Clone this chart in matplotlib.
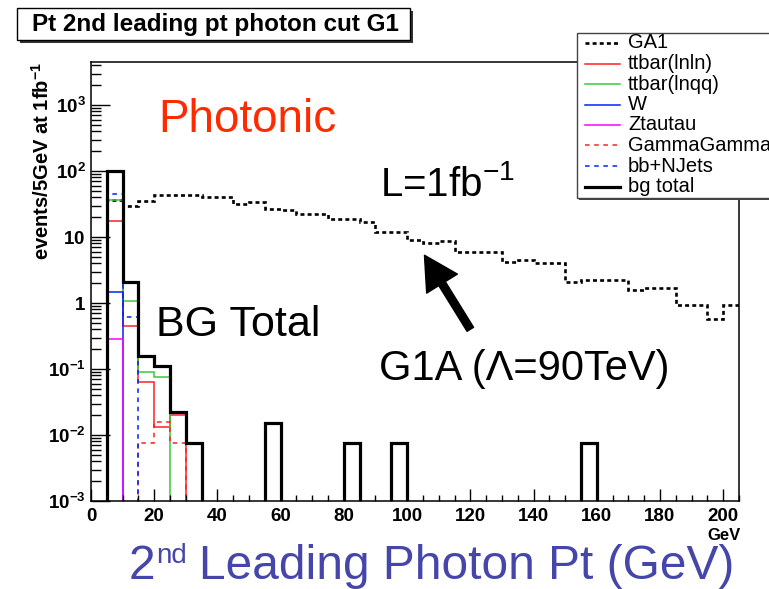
import numpy as np
import matplotlib
matplotlib.use("Agg")
import matplotlib.pyplot as plt
from matplotlib.patches import Rectangle
from matplotlib.lines import Line2D
from matplotlib.ticker import FixedLocator, FixedFormatter, MultipleLocator

plt.rcParams["font.family"] = "Liberation Sans"
plt.rcParams["mathtext.fontset"] = "custom"
plt.rcParams["mathtext.rm"] = "Liberation Sans"
plt.rcParams["mathtext.it"] = "Liberation Sans:italic"
plt.rcParams["mathtext.bf"] = "Liberation Sans:bold"

# 5 GeV bins from 0 to 205 GeV
edges = np.arange(0, 206, 5)
nbins = len(edges) - 1

# signal: GA1 (events / 5 GeV at 1 fb^-1)
ga1 = [0, 36, 29.5, 35, 43, 43, 44, 41, 41, 32,
       34, 27, 26, 22, 22, 18.5, 18.5, 17, 12, 12,
       9, 8, 8.7, 6, 6, 6, 4.2, 4.5, 4.1, 4.1,
       2.1, 2.2, 2.2, 2.2, 1.6, 1.7, 1.7, 0.94, 0.94, 0.58,
       0.92]

# backgrounds, first bins only (rest are empty)
ttbar_lnln = [0, 17.5, 0.45, 0.064, 0.0134, 0.02]
ttbar_lnqq = [0, 37, 1.08, 0.091, 0.076]
w_bg = [0, 1.48]
ztautau = [0, 0.285]
gammagamma = [0, 0, 0, 0.0076, 0.0158, 0.0076]
bb_njets = [0, 45, 0.61]

bg_total = [0, 100, 2.1, 0.16, 0.11, 0.022, 0.0076, 0, 0, 0,
            0, 0.0152, 0, 0, 0, 0, 0.0076, 0, 0, 0.0076,
            0, 0, 0, 0, 0, 0, 0, 0, 0, 0,
            0, 0.0076, 0, 0, 0, 0, 0, 0, 0, 0,
            0]

ymin, ymax = 1e-3, 4.5e3


def full(vals):
    v = np.zeros(nbins)
    v[:len(vals)] = vals
    # empty bins sit on the bottom of the log axis
    return np.where(v > 0, v, ymin * 0.5)


W, H = 769, 589
fig = plt.figure(figsize=(W / 100, H / 100), dpi=100)
ax = fig.add_axes([91 / W, 1 - 501 / H, (739 - 91) / W, (501 - 62) / H])

dots = (0, (1.5, 1.2))
small_dots = (0, (3, 3))
series = [
    ("GA1", ga1, dict(color="black", lw=1.9, ls=dots)),
    ("ttbar(lnln)", ttbar_lnln, dict(color="#ff2020", lw=1.1, ls="-")),
    ("ttbar(lnqq)", ttbar_lnqq, dict(color="#3cc83c", lw=1.1, ls="-")),
    ("W", w_bg, dict(color="#0022ff", lw=1.1, ls="-")),
    ("Ztautau", ztautau, dict(color="#ff00ff", lw=1.1, ls="-")),
    ("GammaGamma", gammagamma, dict(color="#ff2020", lw=1.1, ls=small_dots)),
    ("bb+NJets", bb_njets, dict(color="#0022ff", lw=1.1, ls=small_dots)),
    ("bg total", bg_total, dict(color="black", lw=2.3, ls="-")),
]

for label, vals, style in series:
    ax.stairs(full(vals), edges, baseline=None, **style)

ax.set_yscale("log")
ax.set_xlim(0, 205)
ax.set_ylim(ymin, ymax)

# axis styling
for s in ax.spines.values():
    s.set_linewidth(1.1)
ax.xaxis.set_major_locator(MultipleLocator(20))
ax.xaxis.set_minor_locator(MultipleLocator(5))
ax.tick_params(axis="x", which="major", direction="in", length=8.6, width=1,
               labelsize=13.5, pad=5, top=False)
ax.tick_params(axis="x", which="minor", direction="in", length=4.3, width=1, top=False)
ax.tick_params(axis="y", which="major", direction="in", length=14, width=1,
               labelsize=13.5, pad=4, right=False)
ax.tick_params(axis="y", which="minor", direction="in", length=7, width=1, right=False)
for lab in ax.get_xticklabels():
    lab.set_fontweight("bold")

ydec = [1e-3, 1e-2, 1e-1, 1, 10, 1e2, 1e3]
ylabels = [r"$\mathbf{10^{-3}}$", r"$\mathbf{10^{-2}}$", r"$\mathbf{10^{-1}}$",
           r"$\mathbf{1}$", r"$\mathbf{10}$", r"$\mathbf{10^{2}}$", r"$\mathbf{10^{3}}$"]
ax.yaxis.set_major_locator(FixedLocator(ydec))
ax.yaxis.set_major_formatter(FixedFormatter(ylabels))
ax.yaxis.set_minor_locator(matplotlib.ticker.LogLocator(base=10, subs=np.arange(2, 10)))
ax.yaxis.set_minor_formatter(matplotlib.ticker.NullFormatter())


def fx(px):
    return px / W


def fy(py):
    return 1 - py / H


# y title
fig.text(fx(42), fy(62), r"events/5GeV at 1fb$^{\mathbf{-1}}$", rotation=90,
         ha="center", va="top", fontsize=14.5, fontweight="bold")
# x unit
fig.text(fx(741), fy(536), "GeV", ha="right", va="center", fontsize=12, fontweight="bold")

# annotations
fig.text(fx(158), fy(132), "Photonic", color="#ff2a00", fontsize=33, va="baseline")
fig.text(fx(380), fy(196), r"L=1fb$^{-1}$", fontsize=29, va="baseline")
fig.text(fx(156), fy(336), "BG Total", fontsize=31, va="baseline")
fig.text(fx(379), fy(380), "G1A (\u039b=90TeV)", fontsize=30, va="baseline")
ax.annotate("", xy=(105.5, 5.3), xytext=(120, 0.4),
            arrowprops=dict(facecolor="black", edgecolor="black", width=5.5,
                            headwidth=26, headlength=24))

# x title, with a small raised "nd"
title_color = "#4646aa"
renderer = fig.canvas.get_renderer()
t2 = fig.text(fx(129), fy(579), "2", color=title_color, fontsize=34.5, va="baseline")
x_nd = t2.get_window_extent(renderer).x1 + 1
tnd = fig.text(x_nd / W, fy(563), "nd", color=title_color, fontsize=20, va="baseline")
x_rest = tnd.get_window_extent(renderer).x1 + 12
fig.text(x_rest / W, fy(579), "Leading Photon Pt (GeV)", color=title_color,
         fontsize=34.5, va="baseline")

# title box
fig.add_artist(Rectangle((fx(20), fy(43)), (410 - 17) / W, (40 - 8) / H,
                         transform=fig.transFigure, facecolor="#333333",
                         edgecolor="none", zorder=1))
fig.add_artist(Rectangle((fx(17), fy(40)), (410 - 17) / W, (40 - 8) / H,
                         transform=fig.transFigure, facecolor="white",
                         edgecolor="black", lw=1, zorder=1))
fig.text(fx(215), fy(24), "Pt 2nd leading pt photon cut G1", ha="center", va="center",
         fontsize=17.5, fontweight="bold", zorder=2)

# legend box
fig.add_artist(Rectangle((fx(579), fy(200)), 300 / W, (198 - 33) / H,
                         transform=fig.transFigure, facecolor="#444444",
                         edgecolor="none", zorder=1))
fig.add_artist(Rectangle((fx(577), fy(198)), 300 / W, (198 - 33) / H,
                         transform=fig.transFigure, facecolor="white",
                         edgecolor="#444444", lw=1, zorder=1))
for i, (label, vals, style) in enumerate(series):
    y = 43 + i * 20.5
    fig.add_artist(Line2D([fx(585), fx(620)], [fy(y), fy(y)],
                          transform=fig.transFigure, zorder=2, **style))
    fig.text(fx(628), fy(y), label, va="center", fontsize=14.5, zorder=2)

fig.savefig("out.png", dpi=100)
